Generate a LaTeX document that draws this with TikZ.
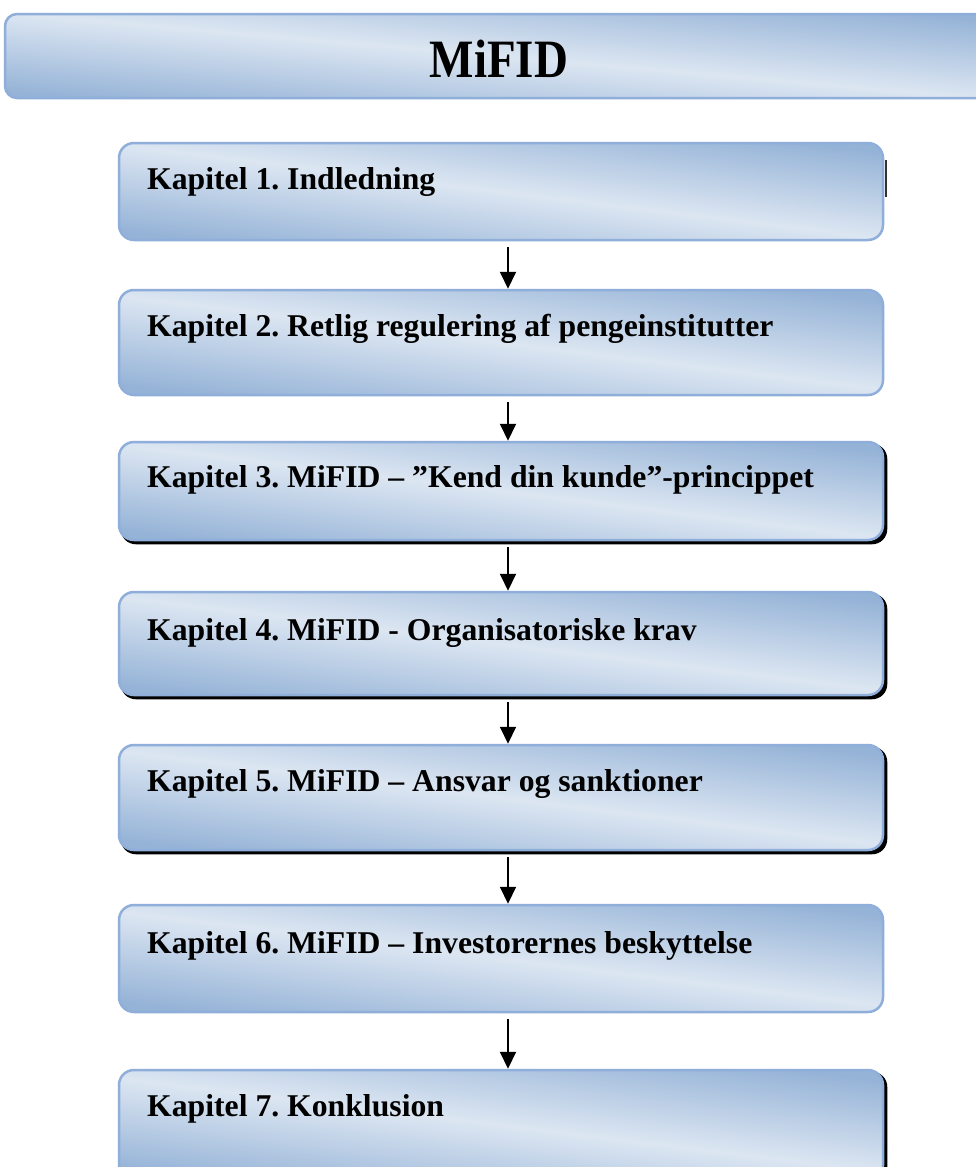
\documentclass[tikz,border=0pt]{standalone}
\usepackage{fontspec}
\setmainfont{Liberation Serif}
\usetikzlibrary{backgrounds,arrows.meta}
\definecolor{bdark}{RGB}{149,179,215}
\definecolor{blight}{RGB}{220,230,242}
\definecolor{bline}{RGB}{143,174,218}
\frenchspacing
\begin{document}
\begin{tikzpicture}[x=1pt,y=-1pt,
  boxshade/.style={draw=bline, line width=2.5pt, top color=bdark, bottom color=bdark, middle color=blight, shading angle=-7, inner sep=0pt},
  chapbox/.style={boxshade, rounded corners=15pt, minimum width=764pt},
  chaptext/.style={anchor=base west, inner sep=0pt, font=\fontsize{31.7}{36}\selectfont\bfseries},
  flow/.style={-{Triangle[length=17pt,width=16pt]}, line width=2pt},
  shadowbox/.style={fill=black, rounded corners=15pt}]
\useasboundingbox (0,0) rectangle (976,1167);
% title
\node[boxshade, shading angle=-5, rounded corners=12pt, minimum width=990pt, minimum height=84pt] (title) at (500,56) {};
\node[inner sep=0pt, font=\fontsize{54}{60}\selectfont\bfseries] (titletext) at (499,58.5) {\scalebox{0.87}[1]{MiFID}};
% chapter boxes
\node[chapbox, minimum height=97pt]  (b1) at (501,191.5) {};
\node[chapbox, minimum height=105pt] (b2) at (501,342.5) {};
\node[chapbox, minimum height=98pt]  (b3) at (501,491) {};
\node[chapbox, minimum height=103pt] (b4) at (501,643.5) {};
\node[chapbox, minimum height=105pt] (b5) at (501,797.5) {};
\node[chapbox, minimum height=107pt] (b6) at (501,958.5) {};
\node[chapbox, minimum height=110pt] (b7) at (501,1125) {};
% texts
\node[chaptext] (t1) at (147,189) {Kapitel 1. Indledning};
\node[chaptext] (t2) at (147,336) {Kapitel 2. Retlig regulering af pengeinstitutter};
\node[chaptext] (t3) at (147,487) {Kapitel 3. MiFID – ”Kend din kunde”-princippet};
\node[chaptext] (t4) at (147,640) {Kapitel 4. MiFID - Organisatoriske krav};
\node[chaptext] (t5) at (147,791) {Kapitel 5. MiFID – Ansvar og sanktioner};
\node[chaptext] (t6) at (147,953) {Kapitel 6. MiFID – Investorernes beskyttelse};
\node[chaptext] (t7) at (147,1116) {Kapitel 7. Konklusion};
% small dark edge on box 1
\draw[line width=2pt, black!80] ([xshift=2pt,yshift=-18pt]b1.north east) -- ([xshift=2pt,yshift=-55pt]b1.north east);
% arrows
\foreach \a/\b in {b1/b2,b2/b3,b3/b4,b4/b5,b5/b6,b6/b7}
  \draw[flow] ([xshift=7pt,yshift=-6pt]\a.south) -- ([xshift=7pt]\b.north);
% shadows
\begin{scope}[on background layer]
\fill[white] (0,0) rectangle (976,1167);
\foreach \b in {b3,b4,b5,b7}
  \fill[shadowbox] ([shift={(3pt,-3pt)}]\b.south west) rectangle ([shift={(3pt,-3pt)}]\b.north east);
\end{scope}
\end{tikzpicture}
\end{document}
